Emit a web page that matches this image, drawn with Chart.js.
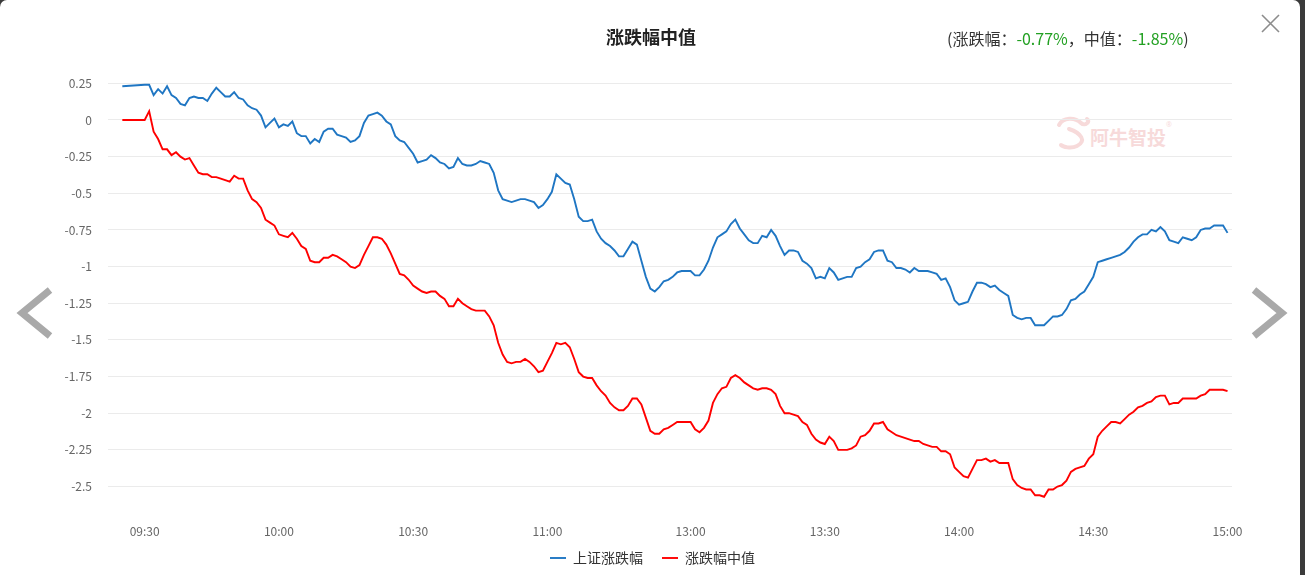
<!DOCTYPE html>
<html>
<head>
<meta charset="utf-8">
<script src="https://cdn.jsdelivr.net/npm/chart.js@4/dist/chart.umd.min.js"></script>
<style>
  html, body { margin: 0; padding: 0; }
  body { width: 1305px; height: 575px; background: #3b3b3b; overflow: hidden; position: relative;
         font-family: "Noto Sans CJK SC", "Noto Sans", sans-serif; }
  .panel { position: absolute; left: 0; top: 0; width: 1300px; height: 620px; background: #fff; border-radius: 7px 7px 0 0; }
  .title { position: absolute; left: 0; width: 1302px; top: 23px; text-align: center; font-size: 18px; font-weight: bold; color: #222; }
  .sub { position: absolute; left: 947px; top: 26px; font-size: 16px; color: #333; white-space: nowrap; }
  .sub .v { color: #22a022; }
  .mark { position: absolute; left: 1055px; top: 115px; }
  #wrap { position: absolute; left: 0; top: 0; width: 1305px; height: 575px; }
  svg.icon { position: absolute; }
</style>
</head>
<body>
<div class="panel"></div>

<svg class="icon mark" width="130" height="40" viewBox="0 0 130 40">
  <path d="M4 10 C8 2 20 2 26 8 C30 12 36 6 32 4" fill="none" stroke="#f7dada" stroke-width="4" stroke-linecap="round"/>
  <path d="M14 14 C26 18 32 26 22 31 C16 34 8 32 6 30" fill="none" stroke="#f7dada" stroke-width="4" stroke-linecap="round"/>
  <text x="35" y="30" font-size="19" font-weight="bold" fill="#f7dada" font-family="Noto Sans CJK SC">阿牛智投</text>
  <text x="111" y="12" font-size="7" fill="#f7dada" font-family="Noto Sans">®</text>
</svg>

<div id="wrap"><canvas id="chart" width="1305" height="575"></canvas></div>

<div class="title">涨跌幅中值</div>
<div class="sub">(涨跌幅：<span class="v">-0.77%</span>，中值：<span class="v">-1.85%</span>)</div>

<svg class="icon" style="left:1258px;top:11px" width="26" height="26">
  <path d="M4 4 L21 21 M21 4 L4 21" stroke="#8c8c8c" stroke-width="1.6" fill="none"/>
</svg>
<svg class="icon" style="left:14px;top:284px" width="44" height="60">
  <path d="M36 6 L8 29 L36 52" stroke="#a9a9a9" stroke-width="7" fill="none"/>
</svg>
<svg class="icon" style="left:1246px;top:284px" width="44" height="60">
  <path d="M8 6 L36 29 L8 52" stroke="#a9a9a9" stroke-width="7" fill="none"/>
</svg>

<script>
// trading sessions (call auction point + morning + afternoon)
const sessions = [['09:30', '11:30'], ['13:00', '15:00']];
const times = ['09:25'];
sessions.forEach(([a, b]) => {
    const toMin = s => s.split(':').map(Number).reduce((h, m) => h * 60 + m);
    for (let t = toMin(a); t <= toMin(b); t++) {
        times.push(String(Math.floor(t / 60)).padStart(2, '0') + ':' + String(t % 60).padStart(2, '0'));
    }
});

const tickTimes = ['09:30', '10:00', '10:30', '11:00', '13:00', '13:30', '14:00', '14:30', '15:00'];
const yTicks = [0.25, 0, -0.25, -0.5, -0.75, -1, -1.25, -1.5, -1.75, -2, -2.25, -2.5];

// 上证涨跌幅 (%)
const shChange = [0.23,
  0.24,0.24,0.17,0.21,0.18,0.23,0.17,0.15,0.11,0.10,
  0.15,0.16,0.15,0.15,0.13,0.18,0.22,0.19,0.16,0.16,
  0.19,0.15,0.14,0.10,0.08,0.07,0.03,-0.05,-0.02,0.01,
  -0.05,-0.03,-0.04,-0.01,-0.09,-0.11,-0.11,-0.16,-0.13,-0.15,
  -0.08,-0.06,-0.06,-0.10,-0.11,-0.12,-0.15,-0.14,-0.11,-0.02,
  0.03,0.04,0.05,0.03,-0.01,-0.03,-0.11,-0.14,-0.15,-0.19,
  -0.23,-0.29,-0.28,-0.27,-0.24,-0.26,-0.29,-0.30,-0.33,-0.32,
  -0.26,-0.30,-0.31,-0.31,-0.30,-0.28,-0.29,
  -0.30,-0.36,-0.48,-0.54,-0.55,-0.56,-0.55,-0.54,-0.54,-0.55,
  -0.56,-0.60,-0.58,-0.54,-0.49,-0.37,-0.40,-0.43,-0.44,-0.54,
  -0.66,-0.69,-0.69,-0.68,-0.76,-0.81,-0.84,-0.86,-0.89,-0.93,
  -0.93,-0.88,-0.83,-0.85,-0.96,-1.07,-1.15,-1.17,-1.14,-1.10,
  -1.09,-1.07,-1.04,-1.03,
  -1.03,-1.06,-1.06,-1.02,-0.96,-0.87,-0.80,-0.78,-0.76,-0.71,
  -0.68,-0.74,-0.78,-0.82,-0.84,-0.84,-0.79,-0.80,-0.75,-0.79,
  -0.86,-0.92,-0.89,-0.89,-0.90,-0.96,-0.98,-1.01,-1.08,-1.07,
  -1.08,-1.01,-1.04,-1.09,-1.08,-1.07,-1.07,-1.01,-1.00,
  -0.97,-0.95,-0.90,-0.89,-0.89,-0.96,-0.97,-1.01,-1.01,-1.02,
  -1.04,-1.01,-1.03,-1.03,-1.03,-1.04,-1.05,-1.09,-1.08,-1.14,
  -1.23,-1.26,-1.25,-1.24,-1.17,-1.11,-1.11,-1.12,-1.14,-1.13,
  -1.16,-1.18,-1.20,-1.33,-1.35,-1.36,-1.35,-1.35,-1.40,-1.40,
  -1.40,-1.37,-1.34,-1.34,-1.33,-1.29,-1.23,-1.22,-1.19,-1.17,
  -1.12,-1.07,-0.97,-0.96,-0.95,-0.94,-0.93,-0.92,-0.90,-0.87,
  -0.83,-0.80,-0.78,-0.78,-0.75,-0.76,-0.73,-0.76,-0.82,-0.83,
  -0.84,-0.80,-0.81,-0.82,-0.80,-0.75,-0.74,-0.74,-0.72,-0.72,
  -0.72,-0.77];

// 涨跌幅中值 (%)
const medianChange = [0.00,
  0.00,0.06,-0.08,-0.13,-0.20,-0.20,-0.24,-0.22,-0.25,-0.27,
  -0.26,-0.31,-0.36,-0.37,-0.37,-0.39,-0.39,-0.40,-0.41,-0.42,
  -0.38,-0.40,-0.40,-0.48,-0.54,-0.56,-0.60,-0.68,-0.70,-0.72,
  -0.78,-0.79,-0.80,-0.77,-0.81,-0.86,-0.88,-0.96,-0.97,-0.97,
  -0.94,-0.94,-0.92,-0.93,-0.95,-0.97,-1.00,-1.01,-0.99,-0.92,
  -0.86,-0.80,-0.80,-0.81,-0.85,-0.91,-0.98,-1.05,-1.06,-1.09,
  -1.13,-1.15,-1.17,-1.18,-1.17,-1.17,-1.20,-1.22,-1.27,-1.27,
  -1.22,-1.25,-1.27,-1.29,-1.30,-1.30,-1.30,
  -1.34,-1.40,-1.52,-1.60,-1.65,-1.66,-1.65,-1.65,-1.63,-1.65,
  -1.68,-1.72,-1.71,-1.65,-1.59,-1.52,-1.53,-1.52,-1.55,-1.63,
  -1.72,-1.75,-1.76,-1.76,-1.81,-1.85,-1.88,-1.93,-1.96,-1.98,
  -1.98,-1.95,-1.90,-1.90,-1.94,-2.03,-2.12,-2.14,-2.14,-2.11,
  -2.10,-2.08,-2.06,-2.06,
  -2.06,-2.11,-2.13,-2.10,-2.05,-1.93,-1.87,-1.83,-1.82,-1.76,
  -1.74,-1.76,-1.79,-1.81,-1.83,-1.84,-1.83,-1.83,-1.84,-1.87,
  -1.95,-2.00,-2.00,-2.01,-2.02,-2.06,-2.08,-2.14,-2.18,-2.20,
  -2.21,-2.16,-2.19,-2.25,-2.25,-2.25,-2.24,-2.22,-2.16,
  -2.15,-2.12,-2.07,-2.07,-2.06,-2.11,-2.13,-2.15,-2.16,-2.17,
  -2.18,-2.19,-2.19,-2.21,-2.22,-2.23,-2.23,-2.26,-2.26,-2.28,
  -2.37,-2.40,-2.43,-2.44,-2.38,-2.32,-2.32,-2.31,-2.33,-2.32,
  -2.34,-2.34,-2.34,-2.45,-2.49,-2.51,-2.52,-2.52,-2.56,-2.56,
  -2.57,-2.52,-2.52,-2.50,-2.49,-2.46,-2.40,-2.38,-2.37,-2.36,
  -2.31,-2.28,-2.16,-2.12,-2.09,-2.06,-2.06,-2.07,-2.04,-2.01,
  -1.99,-1.96,-1.95,-1.93,-1.92,-1.89,-1.88,-1.88,-1.94,-1.93,
  -1.93,-1.90,-1.90,-1.90,-1.90,-1.88,-1.87,-1.84,-1.84,-1.84,
  -1.84,-1.85];

// minute slot on the x axis; the lunch break is squeezed out
function slot(t) {
    const [h, m] = t.split(':').map(Number);
    const mins = h * 60 + m;
    return mins <= 690 ? mins - 570 : mins - 780 + 122;
}

const ctx = document.getElementById('chart').getContext('2d');
const font = "'Noto Sans CJK SC', 'Noto Sans', sans-serif";

new Chart(ctx, {
    type: 'line',
    data: {
        datasets: [{
            label: '上证涨跌幅',
            data: times.map((t, i) => ({ x: slot(t), y: shChange[i] })),
            borderColor: '#1f76c3',
            backgroundColor: '#1f76c3',
            borderWidth: 1.9,
            pointRadius: 0,
            tension: 0
        }, {
            label: '涨跌幅中值',
            data: times.map((t, i) => ({ x: slot(t), y: medianChange[i] })),
            borderColor: '#ff0000',
            backgroundColor: '#ff0000',
            borderWidth: 1.9,
            pointRadius: 0,
            tension: 0
        }]
    },
    options: {
        responsive: false,
        animation: false,
        layout: { padding: { top: 76, right: 0, bottom: 0, left: 0 } },
        scales: {
            x: {
                type: 'linear',
                min: -8.2,
                max: 243,
                grid: { display: false, drawTicks: false },
                border: { display: false },
                afterBuildTicks: scale => { scale.ticks = tickTimes.map(t => ({ value: slot(t) })); },
                afterFit: scale => { scale.height = 30.5; },
                ticks: {
                    autoSkip: false,
                    maxRotation: 0,
                    padding: 16,
                    color: '#666',
                    font: { family: font, size: 12 },
                    callback: v => tickTimes.find(t => slot(t) === v) || ''
                }
            },
            y: {
                min: -2.65,
                max: 0.3,
                grid: { color: '#ebebeb', lineWidth: 1, drawTicks: false },
                border: { display: false },
                afterBuildTicks: scale => { scale.ticks = yTicks.map(v => ({ value: v })); },
                afterFit: scale => { scale.width = 108; },
                ticks: {
                    padding: 16,
                    color: '#666',
                    font: { family: font, size: 12 },
                    callback: v => String(v)
                }
            },
            // empty right-hand margin, keeps the legend centred on the whole panel
            yRight: {
                position: 'right',
                min: -2.65,
                max: 0.3,
                grid: { display: false, drawTicks: false },
                border: { display: false },
                ticks: { display: false },
                afterFit: scale => { scale.width = 73; }
            }
        },
        plugins: {
            legend: {
                position: 'bottom',
                labels: {
                    usePointStyle: true,
                    pointStyle: 'line',
                    pointStyleWidth: 16,
                    padding: 12,
                    color: '#333',
                    font: { family: font, size: 14 },
                    generateLabels: chart => {
                        const items = Chart.defaults.plugins.legend.labels.generateLabels(chart);
                        items[0].text += '\u2002';
                        return items;
                    }
                }
            },
            tooltip: { enabled: false }
        }
    }
});
</script>
</body>
</html>
